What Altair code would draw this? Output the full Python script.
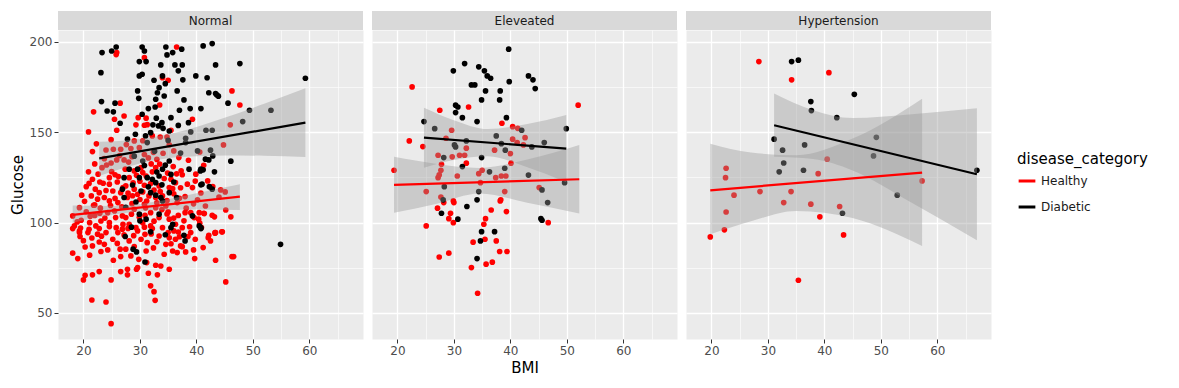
import altair as alt
import pandas as pd

panels = ["Normal", "Eleveated", "Hypertension"]
categories = ["Healthy", "Diabetic"]
colors = ["#FF0000", "#000000"]

# ---------------- points (BMI, Glucose) ----------------
normal_healthy = [
    (25.9, 194.1), (25.8, 193), (30.8, 191.3), (36.5, 197.2), (34.0, 180.2), (35.0, 178.8), (26.5, 166.1),
    (21.8, 161.3), (25.5, 157.2), (27.2, 159), (20.9, 150.2), (25.9, 151.1), (29.7, 158.1), (31.1, 157.8),
    (29.3, 154.1), (30.8, 153.9), (31.3, 154.2), (33.5, 165.1), (39.3, 157.2), (35.5, 151.1), (33.6, 147.4),
    (32.2, 148), (34.8, 147.4), (46.3, 172.9), (47.7, 165.1), (46.0, 154.1),
    (40.6, 139.1), (44.8, 143), (42.0, 123.1), (42.9, 119.9), (44.3, 118.1), (45.1, 117), (44.0, 114.2),
    (45.2, 107), (41.4, 105), (43.2, 103.2), (46.1, 103.2), (40.4, 101.9), (40.6, 99.7), (43.3, 94.1),
    (44.5, 94.9), (42.2, 93),
    (18.1, 83.1), (19.0, 80.1), (21.1, 82), (20.3, 70.9), (20.0, 68.3), (21.6, 71.1), (22.8, 72.9),
    (24.9, 68.3), (21.5, 57.2), (24.0, 56.1), (24.9, 44.1), (26.6, 72.9), (27.8, 74.2), (27.8, 71.1),
    (29.6, 75.1), (29.4, 74.2), (31.5, 72), (33.1, 71.1), (31.9, 65), (32.5, 61.8), (32.7, 57), (35.2, 74.2),
    (45.2, 67.2), (46.3, 81.2), (46.6, 81.2), (43.4, 79.2), (39.7, 80.1), (41.2, 86.2), (39.5, 84.9),
    (25.3, 79.2), (26.6, 81.2), (28.4, 81.6), (29.8, 79.7), (33.7, 76), (32.8, 76.4), (31.2, 77.9),
    (34.3, 82.5), (35.8, 84.3), (36.6, 83.4), (38.1, 83.8), (43.4, 94.5), (44.6, 94.9), (42.1, 91.7),
    (42.5, 89.9), (39.8, 90.8), (37.2, 87.1), (37.5, 86.7), (18.1, 96.7), (19.3, 95.4), (19.4, 92.3),
    (21.6, 87.1), (22.8, 89.3), (23.7, 88), (24.3, 84.9), (26.5, 85.3), (27.5, 85.3), (31.1, 84.3),
    (20.8, 94.5), (22.5, 93.6), (24.0, 94.5), (25.2, 90.8), (26.1, 94.5), (28.1, 89.9), (30.2, 90.8),
    (31.3, 88.9), (33.4, 92.6), (34.6, 88), (36.3, 90.8), (36.0, 95.4), (39.0, 94.5), (22.8, 96.7),
    (26.9, 96.4), (29.6, 95.4), (32.2, 96.7), (34.0, 97.2),
    (21.6, 139.3), (24.0, 140.2), (25.3, 140.6), (26.6, 140.6), (28.4, 141), (29.9, 141.5), (29.0, 145.2),
    (23.7, 135.4), (23.3, 130.4), (25.9, 134.7), (27.2, 134.7), (20.9, 128.1), (21.6, 124), (20.5, 119.9),
    (22.1, 118.5), (22.8, 116.6), (21.4, 114.8), (22.5, 113), (23.7, 113.9), (24.6, 112), (26.1, 111.1),
    (19.3, 108.3), (18.1, 103.7), (18.4, 98.2), (19.3, 94.5), (21.1, 100), (22.2, 98.2), (23.1, 100.9),
    (24.6, 100), (25.8, 97.2), (27.5, 102.8), (24.6, 124.9), (24.6, 121.3), (26.2, 125.5), (27.5, 120.3),
    (28.1, 124.9), (29.0, 118.5), (29.6, 115.7), (30.8, 120.7), (31.1, 125.8), (32.2, 128.1), (32.8, 130.4),
    (30.2, 130.4), (29.0, 128.6), (30.8, 110.2), (32.8, 108.3), (34.0, 114.8), (35.2, 119.4), (35.5, 124),
    (36.3, 122.1), (36.9, 136), (36.0, 139.7), (38.4, 121.3), (39.3, 119.4), (39.0, 105.5), (40.5, 105.5),
    (41.3, 105.2), (33.4, 102.8), (35.2, 101.9), (36.3, 99.1), (37.5, 97.2), (30.5, 100), (31.9, 98.2),
    (29.3, 97.2), (28.1, 99.1), (26.9, 103.7), (25.5, 106.5), (24.3, 105.5), (29.0, 107.4), (31.9, 105.5),
    (34.6, 109.2), (36.6, 111.1), (38.0, 114.4), (41.6, 109.2), (42.8, 104.1), (43.3, 94.5), (39.6, 102.8),
    (33.4, 120.3), (34.3, 124.4), (31.6, 114.8), (32.8, 113.9), (27.8, 113.9), (26.6, 116.6),
    (23.0, 108), (24.8, 109.5), (26.8, 108.8), (28.6, 110.5), (30.0, 112.8), (31.0, 108.2), (33.0, 111),
    (35.0, 106), (36.8, 104), (38.2, 108), (22.0, 104), (20.5, 106), (23.8, 102.5), (27.0, 99), (29.9, 103),
    (32.5, 100.8), (34.8, 104.8), (37.8, 101), (25.2, 117.5), (27.9, 116.3), (30.5, 117), (33.6, 117.2),
    (36.0, 116), (37.2, 119.3), (23.5, 121.8), (26.0, 122.5), (28.8, 122), (31.9, 121.6), (34.9, 127.4),
    (37.5, 126.5), (22.6, 126.8), (25.0, 128.2), (27.4, 129.6), (30.5, 127.7), (33.5, 132.4), (35.9, 131),
    (24.1, 131.9), (26.4, 137.1), (28.6, 136.5), (31.5, 135.8), (34.1, 138.4), (38.6, 134.5), (20.2, 111.8),
    (19.6, 101.3), (21.8, 109.6), (32.0, 93.7), (35.2, 91.6), (38.5, 92.3), (40.9, 97.3), (37.3, 128.7),
    (39.9, 126.8), (41.3, 131.7), (40.2, 112.6), (19.7, 115.2), (22.3, 143.6), (24.9, 145.9), (27.6, 143.2),
    (30.5, 145.3), (32.4, 138.9), (35.2, 143.1), (21.0, 121.7), (18.9, 100.4),
    (20.0, 90), (21.5, 91.5), (23.2, 92.5), (24.6, 97.8), (26.0, 88.5), (27.2, 93.2), (28.9, 92.8),
    (30.9, 93.5), (33.0, 89.5), (35.5, 88.3), (37.0, 92.2), (38.8, 97.7), (21.2, 103.5), (22.9, 105.2),
    (25.7, 102.8), (28.5, 104.7), (30.9, 104.1), (33.9, 107.2), (36.0, 102.5), (39.5, 110.4), (22.0, 109.8),
    (25.6, 113.4), (28.7, 114.9), (31.2, 111.9), (34.8, 112.2), (37.0, 113.5), (24.0, 117.8), (27.0, 119.4),
    (30.0, 122.9), (32.5, 118.0), (35.8, 118.8), (22.9, 122.5), (25.6, 126.5), (29.4, 126.2), (32.0, 132.5),
    (36.5, 127.0), (24.9, 133.0), (28.0, 133.5), (30.8, 137.7), (33.0, 135.0), (22.0, 132.5), (19.5, 97.0),
    (21.0, 96.3), (27.9, 96.8), (30.8, 97.5), (35.0, 94.5), (38.0, 105.5), (40.8, 116.4), (39.8, 123.0),
    (20.3, 86.5), (23.1, 84.0), (29.0, 86.8), (32.4, 86.0), (36.8, 94.8),
]

normal_diabetic = [
    (23.3, 194.1), (25.0, 195), (25.8, 197.2), (23.1, 183), (30.4, 197.2), (30.8, 195), (29.9, 189.1),
    (31.1, 189.1), (29.9, 181.2), (30.4, 182.1), (34.6, 197.2), (33.7, 187.3), (34.8, 192.8), (35.8, 194.1),
    (37.4, 196), (36.2, 187.3), (37.5, 187.3), (36.8, 184), (34.0, 181.2), (32.5, 178.8), (34.5, 176.9),
    (37.6, 179), (39.9, 181.2), (41.2, 197.8), (42.8, 199.1), (43.4, 187.3), (41.9, 180.2), (42.2, 171.9),
    (43.4, 171.4), (36.6, 172.9), (33.4, 174.7), (33.1, 171.9), (34.3, 170.1), (32.8, 168.3), (29.6, 172.9),
    (29.8, 168.8), (37.8, 167.9), (23.2, 167), (25.6, 166.1), (24.2, 161.8), (25.3, 161.3), (26.5, 155),
    (31.5, 163.1), (32.7, 164), (30.4, 160), (32.9, 157.8), (35.5, 158.1), (37.0, 162.2), (38.9, 163.1),
    (40.8, 163.1), (38.6, 155.3), (33.9, 155.3), (32.3, 154.1), (33.3, 153.5), (34.1, 152.2),
    (27.8, 146.2), (29.2, 148.9), (31.0, 148), (31.9, 149.8), (35.2, 150.7), (38.1, 146.7),
    (47.7, 188), (59.3, 179.9), (43.6, 170.7), (43.9, 170), (45.6, 166.1), (49.4, 162.2), (53.2, 162.2),
    (48.2, 155.9), (41.7, 151.1), (42.8, 151.1),
    (42.5, 140.1), (42.2, 134.7), (42.9, 136.9), (46.1, 134), (40.7, 128.6), (41.2, 129.2), (43.2, 128.1),
    (40.8, 120.9), (42.3, 119.9), (42.8, 118.5), (40.8, 97.2),
    (27.4, 92.3), (28.8, 85.3), (29.4, 83.8), (30.9, 78.2), (31.9, 94.9), (35.5, 97.2), (37.8, 93),
    (38.0, 89.9), (40.8, 96.7),
    (31.3, 144.3), (28.1, 129.6), (27.2, 124.9), (29.9, 124.9), (31.3, 124.9), (32.2, 124), (33.4, 125.8),
    (32.8, 122.1), (34.0, 129.6), (34.5, 131.8), (35.2, 134.1), (30.5, 134.1), (29.6, 129.6), (36.0, 122.5),
    (26.9, 118.5), (27.2, 113.9), (30.2, 117.5), (31.9, 116.6), (32.8, 115.2), (33.7, 113.9), (34.0, 112),
    (35.2, 116.6), (38.7, 129.6), (40.8, 129.6), (41.0, 121.3), (41.6, 135.1), (29.9, 104.7), (31.1, 101.9),
    (33.4, 104.7), (39.3, 103.7), (40.5, 98.2), (35.8, 99.1), (38.1, 144.3), (40.2, 139.7),
    (54.9, 88.0),
    (27.5, 108.5), (29.3, 111.4), (31.5, 119.8), (33.0, 128.0), (35.5, 126.7), (30.8, 131.6), (28.7, 120.8),
    (36.5, 113.8), (33.9, 120.9), (29.0, 136.8), (32.6, 139.5), (35.0, 145.5), (37.2, 138.5), (39.0, 150.2),
    (36.8, 153.8), (30.0, 101.0), (28.5, 97.5), (34.5, 93.3),
]

elev_healthy = [
    (22.6, 175.1), (27.5, 162.2), (32.6, 164), (22.1, 145.2), (24.5, 142.1), (19.4, 129), (38.5, 155),
    (40.4, 153.1), (41.3, 152.2), (29.6, 151.1), (28.6, 146.7), (40.4, 146.2), (42.6, 147), (41.2, 144.3),
    (42.3, 143), (32.2, 141.2), (37.2, 140.1), (40.0, 138.2), (27.2, 137.3), (29.7, 136.4), (31.0, 137.3),
    (31.9, 137.3), (27.8, 132.3), (32.2, 132.9), (40.1, 132.9), (27.7, 129), (27.4, 126.4), (27.2, 124.9),
    (30.6, 125.8), (34.4, 127.1), (35.0, 129), (37.4, 124.9), (38.4, 125.8), (39.2, 125.8), (34.7, 122.1),
    (52.0, 165), (45.1, 119.4), (25.1, 117.2), (39.0, 117.2), (38.3, 112.6), (29.9, 112), (27.7, 114.2),
    (28.2, 111.1), (30.0, 111.1), (27.1, 108), (29.4, 105.2), (29.1, 102.2), (29.9, 100), (25.1, 98.2),
    (35.3, 99.1), (35.6, 102.2), (36.6, 107), (38.2, 112), (39.3, 106.1), (46.7, 100), (33.4, 89.2),
    (35.5, 90.8), (37.5, 89.9), (38.1, 84), (39.4, 84), (29.1, 83.1), (27.4, 81), (33.1, 75.1), (35.7, 77),
    (36.8, 78.1), (34.2, 60.9),
]

elev_diabetic = [
    (39.7, 196), (31.9, 188), (29.9, 184), (34.4, 186.2), (35.4, 184), (35.9, 181.2), (36.5, 179.9),
    (39.8, 178), (43.2, 181.2), (44.0, 179), (44.4, 174.2), (33.1, 176.2), (33.7, 176.2), (35.6, 172.9),
    (38.2, 172.9), (34.9, 167.9), (38.1, 167.9), (30.3, 165), (30.7, 164), (30.3, 160.9), (31.5, 158.1),
    (34.1, 155.9), (39.3, 158.1), (24.7, 155.9), (26.6, 152), (49.9, 152), (37.5, 148), (30.1, 143),
    (30.3, 141.9), (32.2, 145.2), (38.4, 143.7), (39.1, 140.1), (42.0, 151.1), (43.8, 141.9), (46.0, 144.3),
    (28.2, 136), (34.9, 136), (31.5, 131), (39.0, 130.1), (36.3, 128.1), (43.2, 126.3), (49.6, 122.1),
    (28.3, 119.9), (34.4, 117.2), (45.6, 118.1), (28.1, 112.6), (34.1, 112.6), (27.8, 105.2), (30.7, 101.9),
    (32.3, 108.9), (34.9, 95), (37.2, 95), (34.7, 89.9), (34.1, 80.1), (45.4, 102.2), (45.6, 101.3),
    (46.6, 111.1),
]

hyper_healthy = [
    (28.4, 189.1), (34.2, 179), (40.8, 183), (40.5, 135.1), (38.9, 127.1), (22.6, 130.1), (22.5, 124.9),
    (57.3, 123.1), (24.0, 115.2), (28.6, 117.2), (34.1, 117.2), (32.8, 111.1), (37.6, 110.2), (42.7, 108.9),
    (22.6, 105.9), (22.3, 96), (19.8, 92.1), (39.2, 103.2), (43.4, 93.2), (35.4, 68.1),
]

hyper_diabetic = [
    (34.2, 189.1), (35.4, 189.9), (37.6, 167), (37.7, 162), (42.2, 158.1), (45.3, 171), (31.1, 146.2),
    (32.6, 140.1), (36.5, 143), (32.8, 133), (32.0, 128.1), (36.3, 129), (49.2, 147.2), (48.7, 136.9),
    (52.9, 115.2), (67.0, 129), (43.2, 105.2),
]

# ---------------- fitted lines (endpoints) ----------------
fit_x = {
    ("Normal", "Healthy"): [18.1, 47.7], ("Normal", "Diabetic"): [22.8, 59.3],
    ("Eleveated", "Healthy"): [19.4, 52.2], ("Eleveated", "Diabetic"): [24.7, 49.9],
    ("Hypertension", "Healthy"): [19.8, 57.3], ("Hypertension", "Diabetic"): [31.1, 67.0],
}
fit_y = {
    ("Normal", "Healthy"): [104.3, 114.4], ("Normal", "Diabetic"): [135.6, 155.3],
    ("Eleveated", "Healthy"): [120.9, 124.0], ("Eleveated", "Diabetic"): [147.0, 141.0],
    ("Hypertension", "Healthy"): [117.9, 127.7], ("Hypertension", "Diabetic"): [153.9, 126.8],
}

# ---------------- confidence bands ----------------
band_x = {
    ("Normal", "Healthy"): [18.1, 25, 32, 40, 47.7],
    ("Normal", "Diabetic"): [22.8, 30, 37, 45, 52, 59.3],
    ("Eleveated", "Healthy"): [19.4, 27, 34.5, 43, 52.2],
    ("Eleveated", "Diabetic"): [24.7, 30, 36, 43, 49.9],
    ("Hypertension", "Healthy"): [19.8, 27, 35, 45, 57.3],
    ("Hypertension", "Diabetic"): [31.1, 38, 45, 55, 67.0],
}
band_lo = {
    ("Normal", "Healthy"): [100.0, 104.2, 106.7, 107.3, 107.0],
    ("Normal", "Diabetic"): [125.8, 132.7, 136.3, 137.2, 137.0, 136.3],
    ("Eleveated", "Healthy"): [105.5, 110.5, 116.1, 111.0, 105.0],
    ("Eleveated", "Diabetic"): [130.4, 134.7, 136.8, 130.6, 122.4],
    ("Hypertension", "Healthy"): [93.6, 100.8, 106.5, 102.5, 87.1],
    ("Hypertension", "Diabetic"): [136.4, 135.2, 128.9, 111.9, 90.3],
}
band_hi = {
    ("Normal", "Healthy"): [109.5, 109.2, 111.3, 116.3, 121.2],
    ("Normal", "Diabetic"): [144.7, 146.3, 150.3, 158.0, 165.8, 174.3],
    ("Eleveated", "Healthy"): [136.4, 132.5, 130.3, 135.0, 143.0],
    ("Eleveated", "Diabetic"): [163.6, 156.7, 151.8, 154.6, 159.6],
    ("Hypertension", "Healthy"): [143.7, 138.8, 137.3, 146.5, 168.6],
    ("Hypertension", "Diabetic"): [171.4, 162.2, 157.9, 159.9, 163.3],
}

point_sets = {
    ("Normal", "Healthy"): normal_healthy, ("Normal", "Diabetic"): normal_diabetic,
    ("Eleveated", "Healthy"): elev_healthy, ("Eleveated", "Diabetic"): elev_diabetic,
    ("Hypertension", "Healthy"): hyper_healthy, ("Hypertension", "Diabetic"): hyper_diabetic,
}

pt_rows, fit_rows, band_rows = [], [], []
for (p, c), pts in point_sets.items():
    for b, g in pts:
        pt_rows.append({"panel": p, "cat": c, "bmi": b, "glu": g})
for key in fit_x:
    for b, g in zip(fit_x[key], fit_y[key]):
        fit_rows.append({"panel": key[0], "cat": key[1], "bmi": b, "glu": g})
for key in band_x:
    for b, lo, hi in zip(band_x[key], band_lo[key], band_hi[key]):
        band_rows.append({"panel": key[0], "cat": key[1], "bmi": b, "lo": lo, "hi": hi})
pts_df = pd.DataFrame(pt_rows)
fit_df = pd.DataFrame(fit_rows)
band_df = pd.DataFrame(band_rows)

FONT = "DejaVu Sans"
W, H = 305, 309
XDOM = [15.5, 69.5]
YDOM = [35.6, 206.6]
xvals = [20, 25, 30, 35, 40, 45, 50, 55, 60, 65]
yvals = [50, 75, 100, 125, 150, 175, 200]

color_enc = alt.Color(
    "cat:N",
    scale=alt.Scale(domain=categories, range=colors),
    legend=alt.Legend(
        title="disease_category", symbolType="stroke", symbolStrokeWidth=3, symbolSize=280,
        orient="none", legendX=959, legendY=122,
    ),
)


def x_enc(field, show_title):
    ax = alt.Axis(
        values=xvals,
        labelExpr="datum.value % 10 == 0 ? datum.label : ''",
        gridWidth={"condition": {"test": "datum.value % 10 != 0", "value": 0.6}, "value": 1.3},
        tickOpacity={"condition": {"test": "datum.value % 10 != 0", "value": 0}, "value": 1},
        title="BMI" if show_title else None,
    )
    return alt.X(f"{field}:Q", scale=alt.Scale(domain=XDOM, nice=False, zero=False), axis=ax)


def y_enc(field, first):
    if first:
        ax = alt.Axis(
            values=yvals,
            labelExpr="datum.value % 50 == 0 ? datum.label : ''",
            gridWidth={"condition": {"test": "datum.value % 50 != 0", "value": 0.6}, "value": 1.3},
            tickOpacity={"condition": {"test": "datum.value % 50 != 0", "value": 0}, "value": 1},
            title="Glucose",
        )
    else:
        ax = alt.Axis(
            values=yvals, labels=False, ticks=False, title=None,
            gridWidth={"condition": {"test": "datum.value % 50 != 0", "value": 0.6}, "value": 1.3},
        )
    return alt.Y(f"{field}:Q", scale=alt.Scale(domain=YDOM, nice=False, zero=False), axis=ax)


charts = []
for i, p in enumerate(panels):
    show_x = i == 1
    first = i == 0
    pts = alt.Chart(pts_df[pts_df.panel == p]).mark_circle(size=32, opacity=1).encode(
        x=x_enc("bmi", show_x), y=y_enc("glu", first), color=color_enc
    )
    band = alt.Chart(band_df[band_df.panel == p]).mark_area(
        color="#999999", opacity=0.4, interpolate="monotone"
    ).encode(
        x=x_enc("bmi", show_x), y=y_enc("lo", first), y2="hi:Q", detail="cat:N"
    )
    line = alt.Chart(fit_df[fit_df.panel == p]).mark_line(strokeWidth=2.2).encode(
        x=x_enc("bmi", show_x), y=y_enc("glu", first), color=color_enc
    )
    lab_df = pd.DataFrame({"label": [p]})
    strip = alt.Chart(lab_df).mark_rect(color="#D9D9D9").encode(
        x=alt.value(0), x2=alt.value(W), y=alt.value(-19), y2=alt.value(0)
    )
    strip_text = alt.Chart(lab_df).mark_text(
        font=FONT, fontSize=12, color="#1A1A1A", baseline="middle", align="center"
    ).encode(x=alt.value(W / 2), y=alt.value(-9.5), text="label:N")
    layer = alt.layer(pts, band, line, strip, strip_text).properties(width=W, height=H)
    charts.append(layer)

chart = alt.hconcat(*charts, spacing=7).resolve_scale(color="shared").properties(
    padding={"left": 1, "top": 2, "right": 5, "bottom": 5}
).configure_view(
    fill="#EBEBEB", stroke="transparent"
).configure_axis(
    domain=False, gridColor="#FFFFFF", tickColor="#333333", tickSize=4, tickWidth=1,
    labelFont=FONT, labelFontSize=12, labelColor="#4D4D4D", labelPadding=2,
    titleFont=FONT, titleFontSize=15, titleColor="#000000", titleFontWeight="normal",
).configure_axisX(titlePadding=4).configure_axisY(titlePadding=4).configure_legend(
    titleFont=FONT, titleFontSize=15, titleFontWeight="normal", titleColor="#000000",
    labelFont=FONT, labelFontSize=12, labelColor="#1A1A1A", rowPadding=10, titlePadding=4,
)

chart.save("out.html", embed_options={"renderer": "svg", "actions": False})
